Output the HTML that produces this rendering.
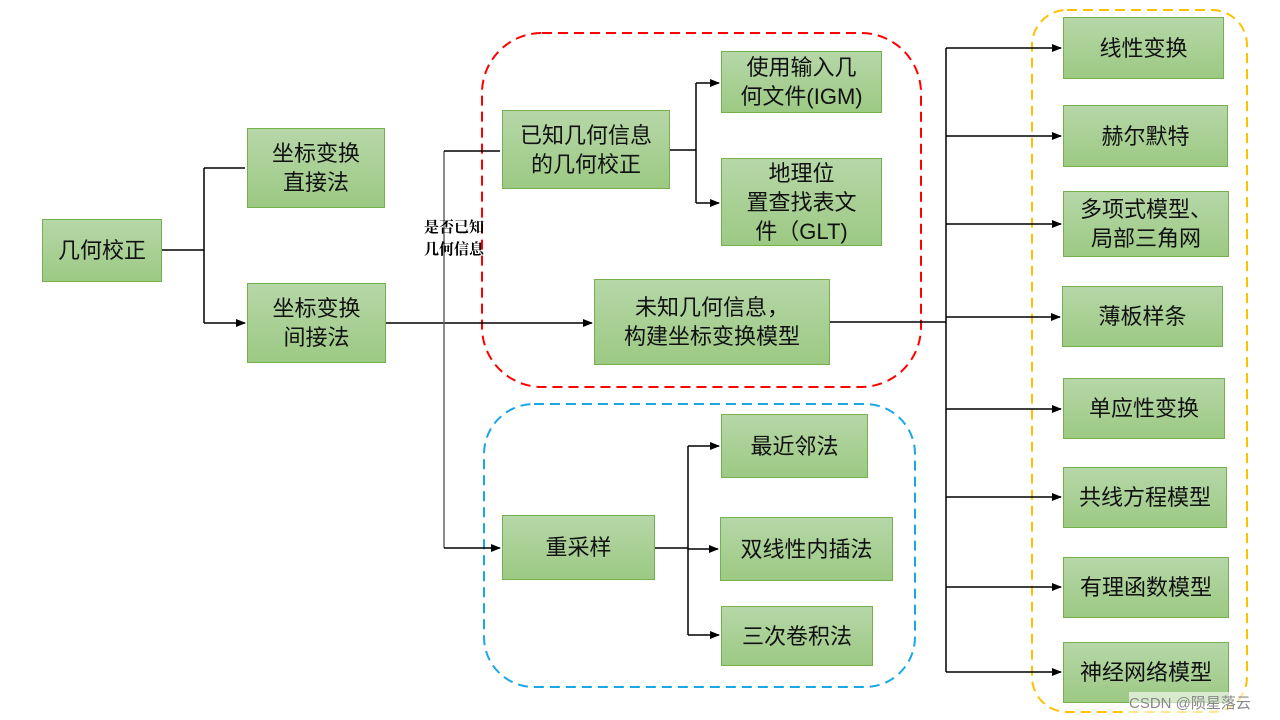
<!DOCTYPE html>
<html><head><meta charset="utf-8"><style>
body{margin:0;width:1280px;height:720px;background:#fff;position:relative;overflow:hidden;font-family:"Liberation Sans","Noto Sans CJK SC",sans-serif}
.b{position:absolute;box-sizing:border-box;border:1.5px solid #74b04c;background:linear-gradient(#b6d7a8,#9cc983);display:flex;align-items:center;justify-content:center;text-align:center;font-size:22px;line-height:29px;color:#111}
svg{position:absolute;left:0;top:0}
</style></head><body>
<svg width="1280" height="720">
<defs><marker id="a" markerWidth="10" markerHeight="8" refX="9" refY="4" orient="auto" markerUnits="userSpaceOnUse"><path d="M0,0 L10,4 L0,8z" fill="#000"/></marker></defs>
<g fill="none" stroke-dasharray="10,6" stroke-width="2">
<rect x="482" y="33" width="439" height="354" rx="60" stroke="#f00"/>
<rect x="484" y="404" width="431" height="283" rx="50" stroke="#1aa7e8"/>
<rect x="1032" y="10" width="215" height="702" rx="35" stroke="#ffc000"/>
</g>
<g stroke="#000" stroke-width="1.5" fill="none">
<path d="M162 250H204M204 168V323"/>
<path d="M204 168H245M204 323H245" marker-end="url(#a)"/>
<path d="M386 323H592" marker-end="url(#a)"/>
<path d="M444 151V548" stroke="#666"/>
<path d="M444 151H500M444 548H500" marker-end="url(#a)"/>
<path d="M670 150H696M696 83V203"/>
<path d="M696 83H719" marker-end="url(#a)"/><path d="M696 203H719" marker-end="url(#a)"/>
<path d="M655 548H688M688 446V635"/>
<path d="M688 446H719" marker-end="url(#a)"/><path d="M688 549H718" marker-end="url(#a)"/><path d="M688 635H719" marker-end="url(#a)"/>
<path d="M830 322H946M946 48V672"/>
<path d="M946 48H1061" marker-end="url(#a)"/><path d="M946 136H1061" marker-end="url(#a)"/><path d="M946 224H1061" marker-end="url(#a)"/><path d="M946 317H1060" marker-end="url(#a)"/><path d="M946 409H1061" marker-end="url(#a)"/><path d="M946 497H1061" marker-end="url(#a)"/><path d="M946 587H1061" marker-end="url(#a)"/><path d="M946 672H1061" marker-end="url(#a)"/>
</g>
</svg>
<div class="b" style="left:42px;top:219px;width:120px;height:63px">几何校正</div>
<div class="b" style="left:247px;top:128px;width:138px;height:80px">坐标变换<br>直接法</div>
<div class="b" style="left:247px;top:283px;width:139px;height:80px">坐标变换<br>间接法</div>
<div class="b" style="left:502px;top:110px;width:168px;height:79px">已知几何信息<br>的几何校正</div>
<div class="b" style="left:721px;top:51px;width:161px;height:62px">使用输入几<br>何文件(IGM)</div>
<div class="b" style="left:721px;top:158px;width:161px;height:88px">地理位<br>置查找表文<br>件（GLT)</div>
<div class="b" style="left:594px;top:279px;width:236px;height:86px">未知几何信息，<br>构建坐标变换模型</div>
<div class="b" style="left:502px;top:515px;width:153px;height:65px">重采样</div>
<div class="b" style="left:721px;top:414px;width:147px;height:64px">最近邻法</div>
<div class="b" style="left:720px;top:517px;width:173px;height:64px">双线性内插法</div>
<div class="b" style="left:721px;top:606px;width:152px;height:60px">三次卷积法</div>
<div class="b" style="left:1063px;top:17px;width:161px;height:62px">线性变换</div>
<div class="b" style="left:1063px;top:105px;width:165px;height:62px">赫尔默特</div>
<div class="b" style="left:1063px;top:191px;width:166px;height:66px">多项式模型、<br>局部三角网</div>
<div class="b" style="left:1062px;top:286px;width:161px;height:61px">薄板样条</div>
<div class="b" style="left:1063px;top:378px;width:162px;height:61px">单应性变换</div>
<div class="b" style="left:1063px;top:467px;width:164px;height:61px">共线方程模型</div>
<div class="b" style="left:1063px;top:557px;width:166px;height:61px">有理函数模型</div>
<div class="b" style="left:1063px;top:642px;width:166px;height:61px">神经网络模型</div>
<div style="position:absolute;left:424px;top:217px;font-size:15px;line-height:22px;font-weight:bold;font-family:'Liberation Serif','Noto Serif CJK SC',serif">是否已知<br>几何信息</div>
<div style="position:absolute;left:1129px;top:692px;font-size:15px;color:#888;background:rgba(255,255,255,.6)">CSDN @陨星落云</div>
</body></html>
